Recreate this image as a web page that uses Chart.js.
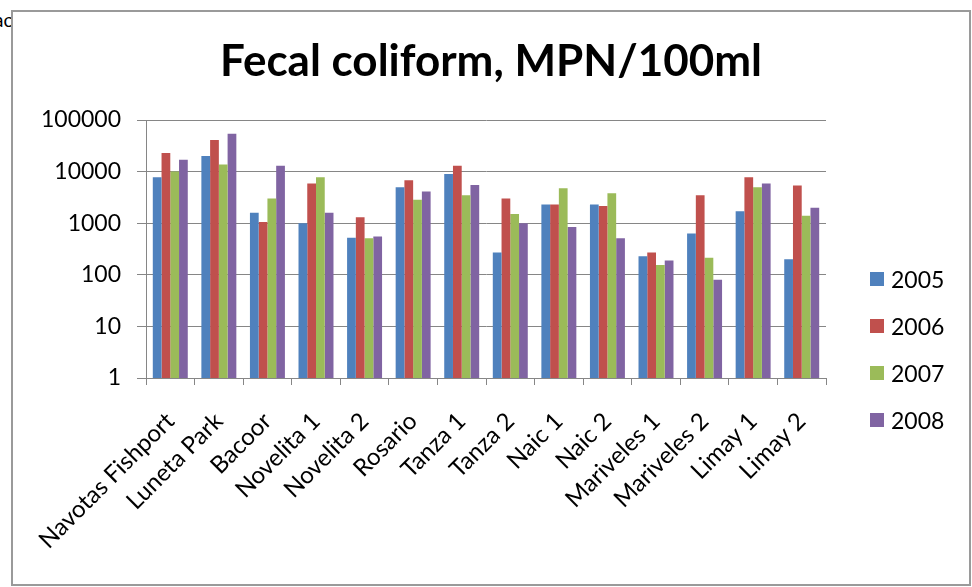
<!DOCTYPE html>
<html>
<head>
<meta charset="utf-8">
<script src="https://cdn.jsdelivr.net/npm/chart.js@4/dist/chart.umd.min.js"></script>
<style>
  html, body { margin: 0; padding: 0; background: #fff; }
  body { width: 972px; height: 587px; position: relative; overflow: hidden; font-family: Lato, "Open Sans", sans-serif; }
  #frag { position: absolute; left: -6px; top: 8px; font-size: 19px; color: #000; }
  #box { position: absolute; left: 11px; top: 10px; width: 960px; height: 576px; box-sizing: border-box;
         border: 2px solid #9a9a9a; background: #fff; }
  #chart { position: absolute; left: 0; top: 0; }
  #title { position: absolute; left: 0; width: 956px; top: 21px; text-align: center;
           font-weight: bold; font-size: 44px; color: #000; }
  #legend { position: absolute; left: 857px; top: 243px; }
  .item { height: 47px; display: flex; align-items: center; font-size: 23px; color: #000; }
  .sw { width: 14px; height: 14px; margin-right: 7px; }
</style>
</head>
<body>
<span id="frag">ac</span>
<div id="box">
  <canvas id="chart" width="956" height="572"></canvas>
  <div id="title">Fecal coliform, MPN/100ml</div>
  <div id="legend"></div>
</div>
<script>
const categories = ['Navotas Fishport', 'Luneta Park', 'Bacoor', 'Novelita 1', 'Novelita 2', 'Rosario',
  'Tanza 1', 'Tanza 2', 'Naic 1', 'Naic 2', 'Mariveles 1', 'Mariveles 2', 'Limay 1', 'Limay 2'];
const years = ['2005', '2006', '2007', '2008'];
const v2005 = [7800, 20000, 1600, 1000, 520, 5000, 9000, 270, 2300, 2300, 230, 630, 1700, 200];
const v2006 = [23000, 41000, 1050, 5900, 1300, 6800, 13000, 3000, 2300, 2150, 270, 3500, 7800, 5400];
const v2007 = [10000, 13700, 3000, 7800, 510, 2850, 3500, 1500, 4750, 3800, 155, 215, 5000, 1400];
const v2008 = [17000, 54000, 13000, 1600, 550, 4100, 5500, 1000, 840, 510, 190, 80, 5900, 2000];
const yTicks = [1, 10, 100, 1000, 10000, 100000];
const colors = ['#4F81BD', '#C0504D', '#9BBB59', '#8064A2'];

const series = [v2005, v2006, v2007, v2008];
const gridGrey = '#868686';
const font = { family: 'Lato, "Open Sans", sans-serif', size: 24 };

// legend in html, right of the plot
const legendEl = document.getElementById('legend');
years.forEach((y, i) => {
  const row = document.createElement('div');
  row.className = 'item';
  row.innerHTML = '<div class="sw" style="background:' + colors[i] + '"></div><span>' + y + '</span>';
  legendEl.appendChild(row);
});

new Chart(document.getElementById('chart'), {
  type: 'bar',
  data: {
    labels: categories,
    datasets: series.map((d, i) => ({
      label: years[i],
      data: d,
      backgroundColor: colors[i],
      borderWidth: 0,
      barPercentage: 1.0,
      categoryPercentage: 0.72
    }))
  },
  options: {
    responsive: false,
    animation: false,
    devicePixelRatio: 1,
    layout: { padding: { top: 108, right: 143, left: 0, bottom: 0 } },
    plugins: {
      legend: { display: false },
      title: { display: false },
      tooltip: { enabled: false }
    },
    scales: {
      x: {
        grid: { drawOnChartArea: false, drawTicks: true, tickLength: 7, color: gridGrey, offset: true },
        border: { display: true, color: gridGrey },
        ticks: { color: '#000', font: font, maxRotation: 45, minRotation: 45, autoSkip: false, padding: 22 },
        afterFit: s => { s.height = 206; s.paddingLeft = 0; s.paddingRight = 0; }
      },
      y: {
        type: 'logarithmic',
        min: 1,
        max: 100000,
        afterBuildTicks: s => { s.ticks = yTicks.map(v => ({ value: v })); },
        grid: { color: gridGrey, tickLength: 9, drawTicks: true },
        border: { display: true, color: gridGrey },
        ticks: { color: '#000', font: { family: font.family, size: 23 }, padding: 16, callback: v => String(v) },
        afterFit: s => { s.width = 133; }
      }
    }
  }
});
</script>
</body>
</html>
